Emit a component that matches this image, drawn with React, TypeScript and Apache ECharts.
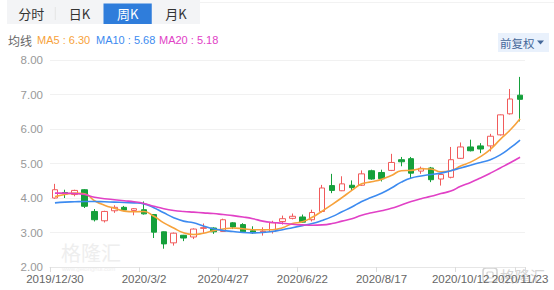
import React, { useEffect, useRef } from "react";
import * as echarts from "echarts";

const categories = [
  "2019/12/30", "2020/1/6", "2020/1/13", "2020/1/20", "2020/1/27", "2020/2/3", "2020/2/10", "2020/2/17",
  "2020/2/24", "2020/3/2", "2020/3/9", "2020/3/16", "2020/3/23", "2020/3/30", "2020/4/6", "2020/4/13",
  "2020/4/20", "2020/4/27", "2020/5/4", "2020/5/11", "2020/5/18", "2020/5/25", "2020/6/1", "2020/6/8",
  "2020/6/15", "2020/6/22", "2020/6/29", "2020/7/6", "2020/7/13", "2020/7/20", "2020/7/27", "2020/8/3",
  "2020/8/10", "2020/8/17", "2020/8/24", "2020/8/31", "2020/9/7", "2020/9/14", "2020/9/21", "2020/9/28",
  "2020/10/5", "2020/10/12", "2020/10/19", "2020/10/26", "2020/11/2", "2020/11/9", "2020/11/16", "2020/11/23",
];

const shownLabels = ["2019/12/30", "2020/3/2", "2020/4/27", "2020/6/22", "2020/8/17", "2020/10/12", "2020/11/23"];

// [open, close, low, high]
const ohlc = [
  [4.0, 4.24, 3.98, 4.41], [4.16, 4.12, 4.0, 4.24], [4.1, 4.22, 4.05, 4.24], [4.24, 3.76, 3.71, 4.26],
  [3.61, 3.37, 3.32, 3.68], [3.34, 3.61, 3.29, 3.63], [3.63, 3.73, 3.57, 3.79], [3.73, 3.65, 3.62, 3.77],
  [3.64, 3.69, 3.5, 3.71], [3.66, 3.54, 3.52, 3.9], [3.52, 3.01, 2.84, 3.53], [3.02, 2.67, 2.53, 3.03],
  [2.7, 2.98, 2.62, 3.0], [2.92, 2.84, 2.75, 2.93], [2.87, 3.1, 2.81, 3.12], [3.12, 3.14, 2.99, 3.26],
  [3.13, 3.02, 2.96, 3.15], [3.03, 3.37, 3.02, 3.4], [3.28, 3.16, 3.1, 3.3], [3.23, 3.02, 3.0, 3.27],
  [3.05, 2.99, 2.96, 3.18], [3.02, 3.04, 2.91, 3.15], [3.03, 3.28, 2.97, 3.34], [3.32, 3.4, 3.23, 3.49],
  [3.41, 3.47, 3.38, 3.55], [3.45, 3.3, 3.28, 3.52], [3.37, 3.58, 3.32, 3.66], [3.61, 4.29, 3.58, 4.38],
  [4.36, 4.22, 4.14, 4.7], [4.21, 4.41, 4.2, 4.63], [4.37, 4.3, 4.22, 4.51], [4.37, 4.7, 4.35, 4.8],
  [4.79, 4.55, 4.53, 4.82], [4.74, 4.56, 4.48, 4.82], [4.8, 5.03, 4.78, 5.28], [5.11, 5.05, 4.92, 5.19],
  [5.14, 4.72, 4.55, 5.19], [4.78, 4.86, 4.7, 4.91], [4.87, 4.53, 4.46, 4.9], [4.55, 4.68, 4.36, 4.72],
  [4.6, 5.11, 4.57, 5.48], [5.15, 5.48, 5.13, 5.61], [5.48, 5.37, 5.35, 5.69], [5.51, 5.42, 5.3, 5.59],
  [5.51, 5.79, 5.35, 5.86], [5.83, 6.41, 5.81, 6.42], [6.44, 6.87, 6.42, 7.16], [6.98, 6.86, 6.22, 7.51],
];

const ma5 = [
  4.04, 4.1, 4.14, 4.12, 3.92, 3.79, 3.7, 3.62, 3.6, 3.61, 3.47, 3.28,
  3.13, 2.99, 2.94, 2.98, 3.05, 3.1, 3.13, 3.11, 3.08, 3.08, 3.08, 3.14,
  3.26, 3.31, 3.44, 3.62, 3.81, 4.01, 4.22, 4.41, 4.47, 4.54, 4.65, 4.79,
  4.8, 4.85, 4.84, 4.76, 4.79, 4.93, 5.04, 5.2, 5.41, 5.7, 5.97, 6.3,
];

const ma10 = [
  3.86, 3.88, 3.89, 3.9, 3.9, 3.89, 3.88, 3.87, 3.86, 3.83, 3.72, 3.57,
  3.43, 3.33, 3.28, 3.19, 3.11, 3.06, 3.03, 3.0, 2.99, 3.0, 3.03, 3.08,
  3.14, 3.2, 3.26, 3.35, 3.46, 3.6, 3.74, 3.9, 4.02, 4.14, 4.29, 4.46,
  4.58, 4.64, 4.68, 4.72, 4.79, 4.87, 4.95, 5.03, 5.11, 5.25, 5.45, 5.68,
];

const ma20 = [
  4.14, 4.14, 4.13, 4.1, 4.02, 3.98, 3.95, 3.92, 3.89, 3.84, 3.76, 3.69,
  3.64, 3.61, 3.59, 3.57, 3.55, 3.52, 3.49, 3.45, 3.4, 3.33, 3.29, 3.27,
  3.24, 3.22, 3.21, 3.22, 3.26, 3.33, 3.4, 3.5, 3.57, 3.63, 3.7, 3.8,
  3.9, 3.98, 4.05, 4.13, 4.2, 4.34, 4.45, 4.58, 4.72, 4.87, 5.02, 5.18,
];

const tabs = ["分时", "日K", "周K", "月K"];
const activeTab = "周K";

const C_UP = "#f15b5b";
const C_DOWN = "#15a03b";
const C_MA5 = "#f7a23b";
const C_MA10 = "#3d8bf0";
const C_MA20 = "#e141c6";
const CJK = "'Noto Sans CJK SC', sans-serif";
const LAT = "'Liberation Sans', Arial, sans-serif";

export default function App() {
  const ref = useRef<HTMLDivElement>(null);
  useEffect(() => {
    if (!ref.current) return;
    const chart = echarts.init(ref.current, undefined, { renderer: "svg" });
    const showIdx = (i: number) => shownLabels.indexOf(categories[i]) >= 0;
    const tabW = 48.25;
    const graphics: any[] = [
      { type: "rect", shape: { x: 7, y: 0, width: tabW * 4, height: 24 }, style: { fill: "#f3f4f6" } },
      { type: "line", shape: { x1: 200, y1: 2.5, x2: 554, y2: 2.5 }, style: { stroke: "#f2f2f2", lineWidth: 1 } },
    ];
    tabs.forEach((t, i) => {
      const x = 7 + i * tabW;
      if (t === activeTab) {
        graphics.push({ type: "rect", shape: { x, y: 3.5, width: tabW, height: 20.5 }, style: { fill: "#2f7ddb" } });
      }
      if (i === 1) {
        graphics.push({ type: "line", shape: { x1: x, y1: 7, x2: x, y2: 20 }, style: { stroke: "#e4e4e4", lineWidth: 1 } });
      }
      graphics.push({
        type: "text",
        x: x + tabW / 2,
        y: 13.5,
        style: {
          text: t,
          fill: t === activeTab ? "#ffffff" : "#333333",
          font: `13px ${CJK}`,
          align: "center",
          verticalAlign: "middle",
        },
      });
    });
    const legendY = 40;
    graphics.push({ type: "text", x: 8, y: legendY, style: { text: "均线", fill: "#666", font: `12px ${CJK}`, verticalAlign: "middle" } });
    graphics.push({ type: "text", x: 37, y: legendY, style: { text: `MA5 : ${ma5[ma5.length - 1].toFixed(2)}`, fill: C_MA5, font: `11px ${LAT}`, verticalAlign: "middle" } });
    graphics.push({ type: "text", x: 96, y: legendY, style: { text: `MA10 : ${ma10[ma10.length - 1].toFixed(2)}`, fill: C_MA10, font: `11px ${LAT}`, verticalAlign: "middle" } });
    graphics.push({ type: "text", x: 159, y: legendY, style: { text: `MA20 : ${ma20[ma20.length - 1].toFixed(2)}`, fill: C_MA20, font: `11px ${LAT}`, verticalAlign: "middle" } });
    // 前复权 button
    graphics.push({ type: "rect", shape: { x: 498, y: 33, width: 51, height: 19 }, style: { fill: "#e9f1fc" } });
    graphics.push({ type: "text", x: 500, y: 42.5, style: { text: "前复权", fill: "#45689a", font: `11.5px ${CJK}`, verticalAlign: "middle" } });
    graphics.push({ type: "polygon", shape: { points: [[537, 40.5], [544, 40.5], [540.5, 44.5]] }, style: { fill: "#45689a" } });
    // watermarks
    graphics.push({ type: "text", x: 61, y: 252, z: -1, style: { text: "格隆汇", fill: "#eeeeee", font: `20px ${CJK}`, lineHeight: 20, verticalAlign: "middle" } });
    graphics.push({ type: "text", x: 62, y: 268.5, z: -1, style: { text: "www.gelonghui.com", fill: "#eeeeee", font: `6px ${LAT}`, lineHeight: 6, verticalAlign: "middle" } });
    graphics.push({ type: "rect", z: -1, shape: { x: 483, y: 268, width: 14, height: 14, r: 3 }, style: { fill: "none", stroke: "#d2d2d2", lineWidth: 1.5 } });
    graphics.push({ type: "rect", z: -1, shape: { x: 487, y: 272, width: 6, height: 6, r: 1 }, style: { fill: "none", stroke: "#d2d2d2", lineWidth: 1.2 } });
    graphics.push({ type: "text", x: 500, y: 275, z: -1, style: { text: "格隆汇", fill: "#d4d4d4", font: `15px ${CJK}`, verticalAlign: "middle" } });

    chart.setOption({
      animation: false,
      textStyle: { fontFamily: LAT },
      grid: { left: 50, right: 29, top: 60, bottom: 23 },
      graphic: graphics,
      xAxis: {
        type: "category",
        data: categories,
        boundaryGap: true,
        axisLine: { lineStyle: { color: "#e6e6e6" } },
        axisTick: { show: true, interval: (i: number) => showIdx(i), length: 5, lineStyle: { color: "#dcdcdc" } },
        axisLabel: {
          interval: (i: number) => showIdx(i),
          hideOverlap: false,
          showMaxLabel: true,
          color: "#666",
          fontSize: 11.5,
          margin: 6,
          lineHeight: 12,
          fontFamily: LAT,
        },
        splitLine: { show: false },
      },
      yAxis: {
        type: "value",
        min: 2,
        max: 8,
        interval: 1,
        axisLine: { show: false },
        axisTick: { show: false },
        axisLabel: { color: "#999", fontSize: 11.5, margin: 7, lineHeight: 12, fontFamily: LAT, formatter: (v: number) => v.toFixed(2) },
        splitLine: { lineStyle: { color: "#f1f1f1" } },
      },
      series: [
        {
          type: "candlestick",
          data: ohlc,
          barWidth: 6,
          itemStyle: { color: "#ffffff", color0: C_DOWN, borderColor: C_UP, borderColor0: C_DOWN, borderWidth: 1 },
        },
        { type: "line", data: ma5, smooth: true, symbol: "none", lineStyle: { width: 1.6, color: C_MA5 } },
        { type: "line", data: ma10, smooth: true, symbol: "none", lineStyle: { width: 1.6, color: C_MA10 } },
        { type: "line", data: ma20, smooth: true, symbol: "none", lineStyle: { width: 1.6, color: C_MA20 } },
      ],
    });
    return () => chart.dispose();
  }, []);
  return (
    <div style={{ position: "absolute", left: 0, top: 0, width: 554, height: 290, background: "#fff" }}>
      <div ref={ref} style={{ width: 554, height: 290 }} />
    </div>
  );
}
